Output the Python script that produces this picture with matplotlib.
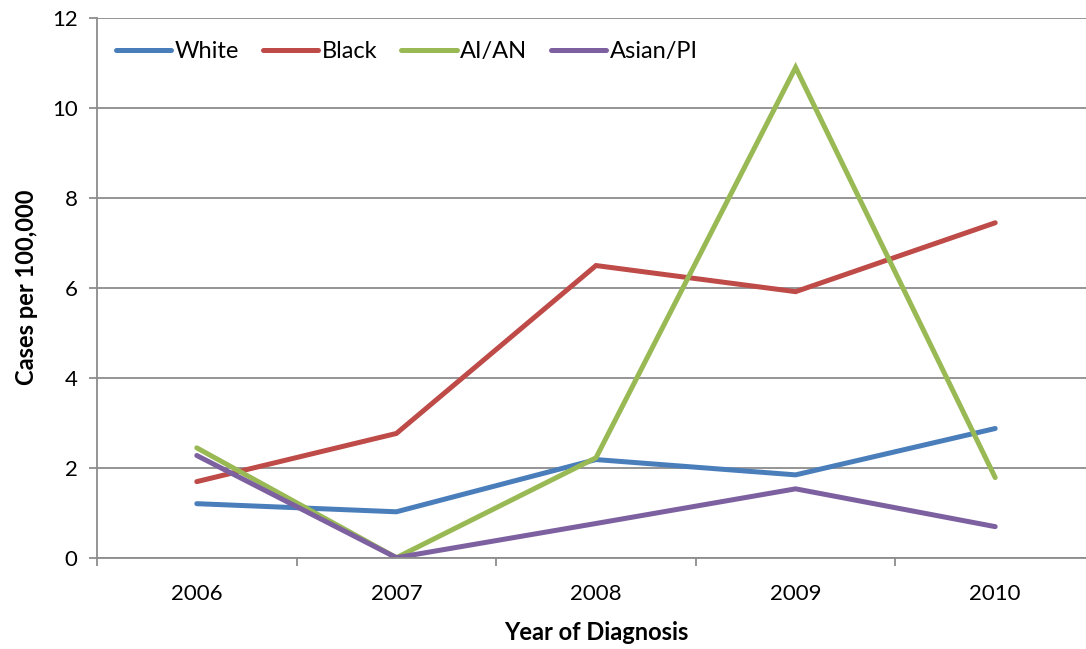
import matplotlib.pyplot as plt

plt.rcParams['font.family'] = ['Lato', 'DejaVu Sans']

years = ['2006', '2007', '2008', '2009', '2010']
white = [1.20, 1.02, 2.18, 1.84, 2.87]
black = [1.69, 2.76, 6.49, 5.91, 7.44]
aian = [2.44, 0.00, 2.22, 10.89, 1.78]
asian_pi = [2.27, 0.00, 0.76, 1.53, 0.69]

series = [('White', white, '#4A7EBB'),
          ('Black', black, '#BE4B48'),
          ('AI/AN', aian, '#98B954'),
          ('Asian/PI', asian_pi, '#7D60A0')]

fig = plt.figure(figsize=(10.86, 6.49), dpi=100)
ax = fig.add_axes([97 / 1086, 1 - 557.7 / 649, 998 / 1086, 540.2 / 649])

x = range(len(years))
for name, vals, col in series:
    ax.plot(x, vals, color=col, lw=3.6, label=name, solid_capstyle='round',
            solid_joinstyle='miter')

ax.set_xlim(-0.5, len(years) - 0.5)
ax.set_ylim(0, 12)
ax.set_yticks(range(0, 13, 2))
ax.set_xticks(list(x))
ax.set_xticklabels(years)
ax.set_xticks([i - 0.5 for i in range(len(years) + 1)], minor=True)

ax.grid(axis='y', color='#8c8c8c', lw=1.3)
ax.set_axisbelow(True)
for s in ['top', 'right']:
    ax.spines[s].set_visible(False)
for s in ['left', 'bottom']:
    ax.spines[s].set_color('#8c8c8c')
    ax.spines[s].set_linewidth(1.3)

ax.tick_params(axis='x', which='major', length=0, pad=19, labelsize=16)
ax.tick_params(axis='x', which='minor', length=6, width=1.3, color='#8c8c8c')
ax.tick_params(axis='y', length=6, width=1.3, color='#8c8c8c', pad=8, labelsize=16)

ax.set_xlabel('Year of Diagnosis', fontsize=17, fontweight='bold', labelpad=12)
ax.set_ylabel('Cases per 100,000', fontsize=17, fontweight='bold', labelpad=10)

ax.legend(loc='center left', bbox_to_anchor=(0.0, 0.937), ncol=4, frameon=False,
          fontsize=17, handlelength=2.35, handletextpad=0.15, columnspacing=1.0,
          borderaxespad=0.4)

fig.savefig('out.png', dpi=100)
